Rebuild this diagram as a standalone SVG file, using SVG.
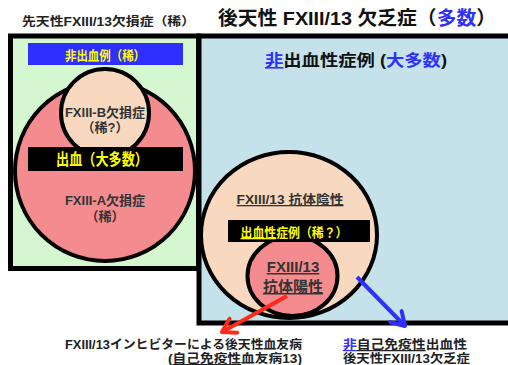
<svg xmlns="http://www.w3.org/2000/svg" width="508" height="365" viewBox="0 0 508 365">
<style>
text{font-family:"Liberation Sans","Noto Sans CJK JP",sans-serif;font-weight:bold}
.box{stroke:#000;stroke-width:5}
.circ{stroke:#000;stroke-width:4}
.dk{fill:#333}
.yl{fill:#ffff00}
.bl{fill:#2f2fff}
.u{text-decoration:underline}
</style>
<defs>
<marker id="ahR" markerUnits="userSpaceOnUse" markerWidth="20" markerHeight="20" viewBox="0 0 20 20" refX="16" refY="10" orient="auto">
<path d="M3,2 L16,10 L3,18" fill="none" stroke="#ff2a1a" stroke-width="4" stroke-linecap="round" stroke-linejoin="round"/>
</marker>
<marker id="ahB" markerUnits="userSpaceOnUse" markerWidth="20" markerHeight="20" viewBox="0 0 20 20" refX="16" refY="10" orient="auto">
<path d="M3,2 L16,10 L3,18" fill="none" stroke="#2f2fff" stroke-width="4" stroke-linecap="round" stroke-linejoin="round"/>
</marker>
</defs>
<rect width="508" height="365" fill="#fff"/>
<text x="22" y="26" font-size="12" fill="#222" textLength="173" lengthAdjust="spacingAndGlyphs">先天性FXIII/13欠損症（稀）</text>
<text x="218" y="25" font-size="19" fill="#111" textLength="278" lengthAdjust="spacingAndGlyphs">後天性 FXIII/13 欠乏症（<tspan class="bl">多数</tspan>）</text>

<g id="right-box">
<rect class="box" x="199" y="36" width="320" height="287" fill="#c5e2ea"/>
<text x="356" y="66" font-size="16" fill="#111" text-anchor="middle" textLength="182" lengthAdjust="spacingAndGlyphs"><tspan class="bl u">非</tspan>出血性症例 (<tspan class="bl">大多数</tspan>)</text>
</g>
<g id="antibody-negative">
<ellipse class="circ" cx="289" cy="235" rx="88" ry="83" fill="#f8d9c0"/>
<text class="dk u" x="290" y="204" font-size="13" text-anchor="middle" textLength="107" lengthAdjust="spacingAndGlyphs">FXIII/13 抗体陰性</text>
</g>
<g id="antibody-positive">
<ellipse class="circ" cx="292.5" cy="276" rx="45" ry="40" fill="#f48b8e"/>
<text class="dk u" x="293" y="272" font-size="15" text-anchor="middle">FXIII/13</text>
<text class="dk u" x="293" y="292" font-size="15" text-anchor="middle">抗体陽性</text>
</g>
<g id="bleeding-rare">
<rect x="228" y="220" width="142" height="22" fill="#000"/>
<text class="yl" x="294" y="237" font-size="13" text-anchor="middle" textLength="107" lengthAdjust="spacingAndGlyphs"><tspan class="u">出血性</tspan>症例（稀？）</text>
</g>

<g id="left-box">
<rect class="box" x="10.5" y="36" width="188" height="232.5" fill="#d4f7d0"/>
</g>
<g id="fxiii-a">
<circle class="circ" cx="105" cy="171" r="90" fill="#f48b8e"/>
<text class="dk" x="105" y="205" font-size="13" text-anchor="middle">FXIII-A欠損症</text>
<text class="dk" x="105" y="221" font-size="13" text-anchor="middle">（稀）</text>
</g>
<g id="fxiii-b">
<circle class="circ" cx="105" cy="113" r="44" fill="#f8d9c0"/>
<text class="dk" x="105" y="117" font-size="13" text-anchor="middle">FXIII-B欠損症</text>
<text class="dk" x="105" y="132" font-size="13" text-anchor="middle">（稀?）</text>
</g>
<g id="non-bleeding">
<rect x="28" y="43" width="155" height="22" fill="#2f2fff"/>
<text class="yl" x="105" y="60" font-size="13" text-anchor="middle" textLength="80" lengthAdjust="spacingAndGlyphs">非出血例（稀）</text>
</g>
<g id="bleeding-most">
<rect x="28" y="147" width="155" height="24" fill="#000"/>
<text class="yl" x="102" y="165" font-size="16" text-anchor="middle" textLength="92" lengthAdjust="spacingAndGlyphs">出血（大多数）</text>
</g>

<g id="connectors">
<line x1="287" y1="296" x2="222" y2="332" stroke="#ff2a1a" stroke-width="4" marker-end="url(#ahR)"/>
<line x1="357" y1="277" x2="405" y2="326" stroke="#2f2fff" stroke-width="4" marker-end="url(#ahB)"/>
</g>

<g id="label-acquired-hemophilia">
<text x="302" y="349" font-size="12.5" fill="#222" text-anchor="end" textLength="237" lengthAdjust="spacingAndGlyphs">FXIII/13インヒビターによる後天性血友病</text>
<text x="302" y="363" font-size="12.5" fill="#222" text-anchor="end" textLength="134" lengthAdjust="spacingAndGlyphs">(<tspan class="u">自己免疫性</tspan>血友病13)</text>
</g>
<g id="label-non-autoimmune">
<text x="343" y="349" font-size="12.5" fill="#222" textLength="124" lengthAdjust="spacingAndGlyphs"><tspan class="bl u">非</tspan><tspan class="u">自己免疫性</tspan>出血性</text>
<text x="343" y="363" font-size="12.5" fill="#222" textLength="127" lengthAdjust="spacingAndGlyphs">後天性FXIII/13欠乏症</text>
</g>
</svg>
